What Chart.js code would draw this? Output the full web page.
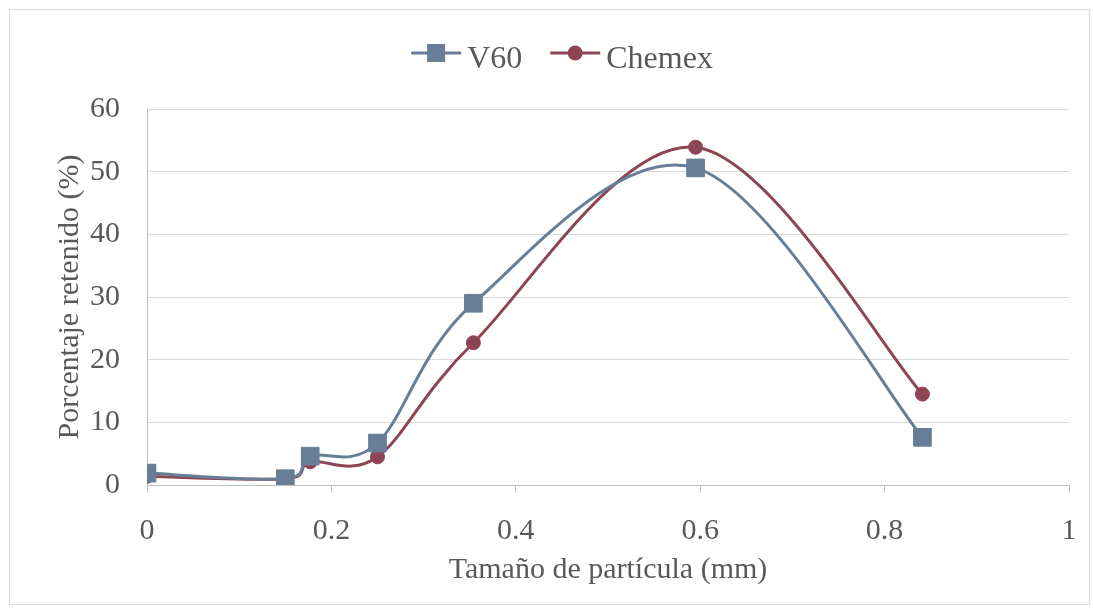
<!DOCTYPE html>
<html>
<head>
<meta charset="utf-8">
<script src="https://cdn.jsdelivr.net/npm/chart.js@4.4.1/dist/chart.umd.min.js"></script>
<style>
  html, body { margin: 0; padding: 0; background: #fff; }
  #wrap { width: 1093px; height: 610px; position: relative; }
</style>
</head>
<body>
<div id="wrap"><canvas id="grafico"></canvas></div>
<script>
// tamaño de partícula (mm)
const tamanos = [0, 0.15, 0.177, 0.25, 0.354, 0.595, 0.841];
const v60 = [1.9, 1.0, 4.6, 6.7, 29.0, 50.6, 7.6];
const chemex = [1.4, 1.0, 3.7, 4.5, 22.7, 53.9, 14.5];
const ticksX = [0, 0.2, 0.4, 0.6, 0.8, 1];
const ticksY = [0, 10, 20, 30, 40, 50, 60];

const colorV60 = '#687E97';
const colorChemex = '#8C4653';
const fuente = '"Liberation Serif", "Times New Roman", serif';

function puntos(ys) {
    return tamanos.map((x, i) => ({ x: x, y: ys[i] }));
}

// curva suavizada tipo Excel (puntos de control a 1/6)
const suavizado = {
    id: 'suavizado',
    beforeDatasetDraw(chart, args) {
        const meta = args.meta;
        const linea = meta.dataset;
        linea.updateControlPoints(chart.chartArea, meta.indexAxis);
        const pts = meta.data;
        for (let i = 0; i < pts.length; i++) {
            const prev = pts[Math.max(i - 1, 0)];
            const next = pts[Math.min(i + 1, pts.length - 1)];
            const dx = (next.x - prev.x) / 6;
            const dy = (next.y - prev.y) / 6;
            pts[i].cp1x = pts[i].x - dx;
            pts[i].cp1y = pts[i].y - dy;
            pts[i].cp2x = pts[i].x + dx;
            pts[i].cp2y = pts[i].y + dy;
        }
    }
};

// borde del gráfico y leyenda con línea + marcador
const extras = {
    id: 'extras',
    afterDraw(chart) {
        const c = chart.ctx;
        c.save();
        c.strokeStyle = '#D9D9D9';
        c.lineWidth = 1;
        c.strokeRect(9.5, 9.5, 1080, 595);

        c.font = '32px ' + fuente;
        c.textBaseline = 'middle';
        const items = chart.data.datasets;
        const anchoLinea = 50, hueco = 6, sep = 28;
        let total = 0;
        items.forEach((d, i) => {
            total += anchoLinea + hueco + c.measureText(d.label).width;
            if (i > 0) total += sep;
        });
        let x = 562 - total / 2;
        const y = 53;
        items.forEach((d) => {
            c.strokeStyle = d.borderColor;
            c.lineWidth = 3;
            c.beginPath();
            c.moveTo(x, y);
            c.lineTo(x + anchoLinea, y);
            c.stroke();
            c.fillStyle = d.backgroundColor;
            const cx = x + anchoLinea / 2;
            if (d.pointStyle === 'rect') {
                c.fillRect(cx - 9, y - 9, 18, 18);
            } else {
                c.beginPath();
                c.arc(cx, y, 7.5, 0, Math.PI * 2);
                c.fill();
            }
            c.fillStyle = '#595959';
            c.fillText(d.label, x + anchoLinea + hueco, y + 7);
            x += anchoLinea + hueco + c.measureText(d.label).width + sep;
        });
        c.restore();
    }
};

Chart.defaults.font.family = fuente;
Chart.defaults.color = '#595959';

let miCanvas = document.getElementById('grafico').getContext('2d');

new Chart(miCanvas, {
    type: 'scatter',
    data: {
        datasets: [
            {
                label: 'V60',
                data: puntos(v60),
                showLine: true,
                tension: 0.4,
                borderColor: colorV60,
                backgroundColor: colorV60,
                borderWidth: 3,
                pointStyle: 'rect',
                pointRadius: 12.5,
                pointBorderWidth: 1,
                pointHoverRadius: 12.5
            },
            {
                label: 'Chemex',
                data: puntos(chemex),
                showLine: true,
                tension: 0.4,
                borderColor: colorChemex,
                backgroundColor: colorChemex,
                borderWidth: 3,
                pointStyle: 'circle',
                pointRadius: 7,
                pointBorderWidth: 1,
                pointHoverRadius: 7
            }
        ]
    },
    options: {
        responsive: true,
        maintainAspectRatio: false,
        animation: false,
        layout: { padding: { left: 52, right: 24, top: 109, bottom: 18 } },
        plugins: {
            legend: { display: false },
            tooltip: { enabled: false }
        },
        scales: {
            x: {
                type: 'linear',
                min: 0,
                max: 1,
                afterBuildTicks: (axis) => { axis.ticks = ticksX.map(v => ({ value: v })); },
                afterFit: (axis) => { axis.height = 107; axis.paddingRight = 0; axis.paddingLeft = 0; },
                grid: { drawOnChartArea: false, drawTicks: true, tickLength: 8, tickColor: '#BFBFBF' },
                border: { display: true, color: '#BFBFBF', width: 1 },
                ticks: { font: { size: 30 }, color: '#595959', padding: 20, callback: (v) => String(v) },
                title: { display: true, text: 'Tamaño de partícula (mm)', font: { size: 30 }, color: '#595959', padding: { top: 2, bottom: 4 } }
            },
            y: {
                min: 0,
                max: 60,
                afterBuildTicks: (axis) => { axis.ticks = ticksY.map(v => ({ value: v })); },
                afterFit: (axis) => { axis.width = 95; },
                grid: { color: '#D9D9D9', drawTicks: false },
                border: { display: true, color: '#BFBFBF', width: 1 },
                ticks: { font: { size: 30 }, color: '#595959', padding: 27 },
                title: { display: true, text: 'Porcentaje retenido (%)', font: { size: 30 }, color: '#595959', padding: { top: 0, bottom: 0 } }
            }
        }
    },
    plugins: [suavizado, extras]
});
</script>
</body>
</html>
